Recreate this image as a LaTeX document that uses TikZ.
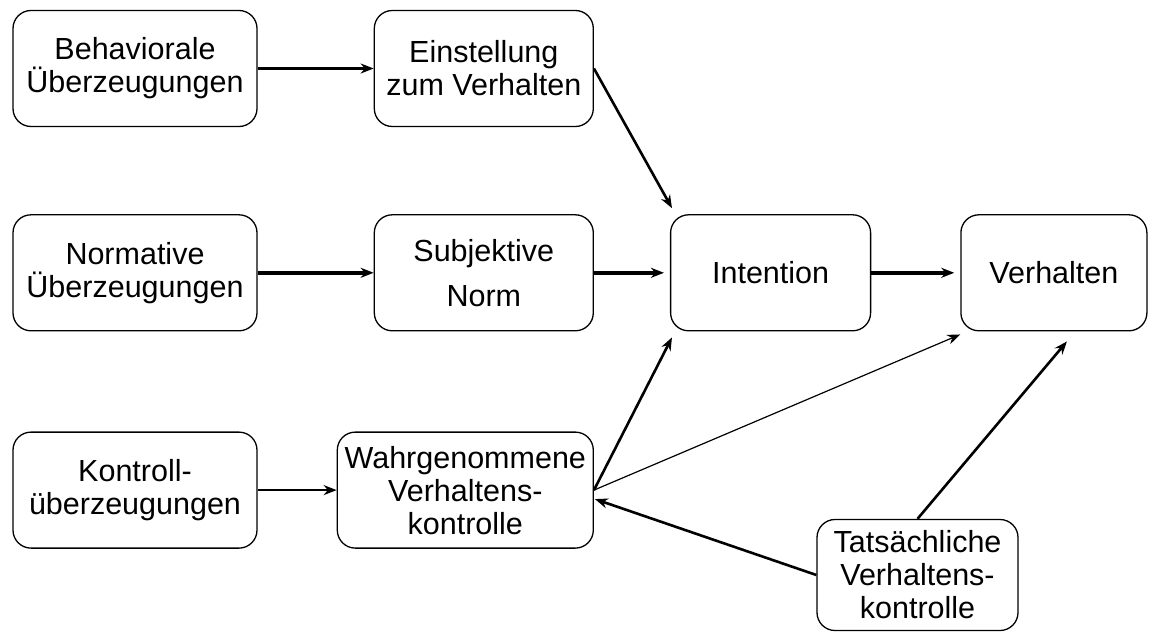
\documentclass[tikz,border=0pt]{standalone}
\usepackage{fontspec}
\setmainfont{Liberation Sans}
\usetikzlibrary{positioning, arrows.meta}

\begin{document}
\begin{tikzpicture}[x=1pt, y=-1pt, >={Stealth[length=13pt, width=10pt]},
		box/.style={draw, line width=1.3pt, rounded corners=18pt, align=center, inner sep=0pt, minimum height=116pt, font=\fontsize{30.5}{33}\selectfont},
		link/.style={->, line width=2.6pt},
		boldlink/.style={->, line width=3.6pt},
		thinlink/.style={->, line width=1.2pt}]
			\useasboundingbox (0,0) rectangle (1155,632);
			% first column
			\node (behav) [box, minimum width=244pt] at (135,68.5) {Behaviorale\\Überzeugungen};
			\node (norm) [box, minimum width=244pt, below=87pt of behav] {Normative\\Überzeugungen};
			\node (kontr) [box, minimum width=244pt, below=100pt of norm] {Kontroll-\\überzeugungen};
			% second column
			\node (einst) [box, minimum width=219pt, right=116pt of behav] {Einstellung\\zum Verhalten};
			\node (subj) [box, minimum width=219pt, right=116pt of norm] {Subjektive\\[12pt]Norm};
			\node (wahr) [box, minimum width=256pt, right=79pt of kontr] {Wahrgenommene\\Verhaltens-\\kontrolle};
			% right part
			\node (inten) [box, minimum width=200pt, right=76pt of subj] {Intention};
			\node (verh) [box, minimum width=186pt, right=89pt of inten] {Verhalten};
			\node (tats) [box, minimum width=201pt, minimum height=111pt] at (917.5,575) {Tatsächliche\\Verhaltens-\\kontrolle};
			\draw[link] (behav) -- (einst);
			\draw[boldlink] (norm) -- (subj);
			\draw[boldlink, shorten >=6pt] (subj) -- (inten);
			\draw[boldlink, shorten >=6pt] (inten) -- (verh);
			\draw[link] (kontr) -- (wahr);
			\draw[link] (einst.east) -- ([xshift=2pt, yshift=6pt]inten.north west);
			\draw[link] (wahr.east) -- ([xshift=2pt, yshift=-6pt]inten.south west);
			\draw[thinlink] (wahr.east) -- ([yshift=-3pt]verh.south west);
			\draw[link] (tats.west) -- ([xshift=1pt, yshift=-9pt]wahr.east);
			\draw[link] (tats.north) -- ([xshift=13pt, yshift=-10pt]verh.south);
		\end{tikzpicture}
\end{document}
